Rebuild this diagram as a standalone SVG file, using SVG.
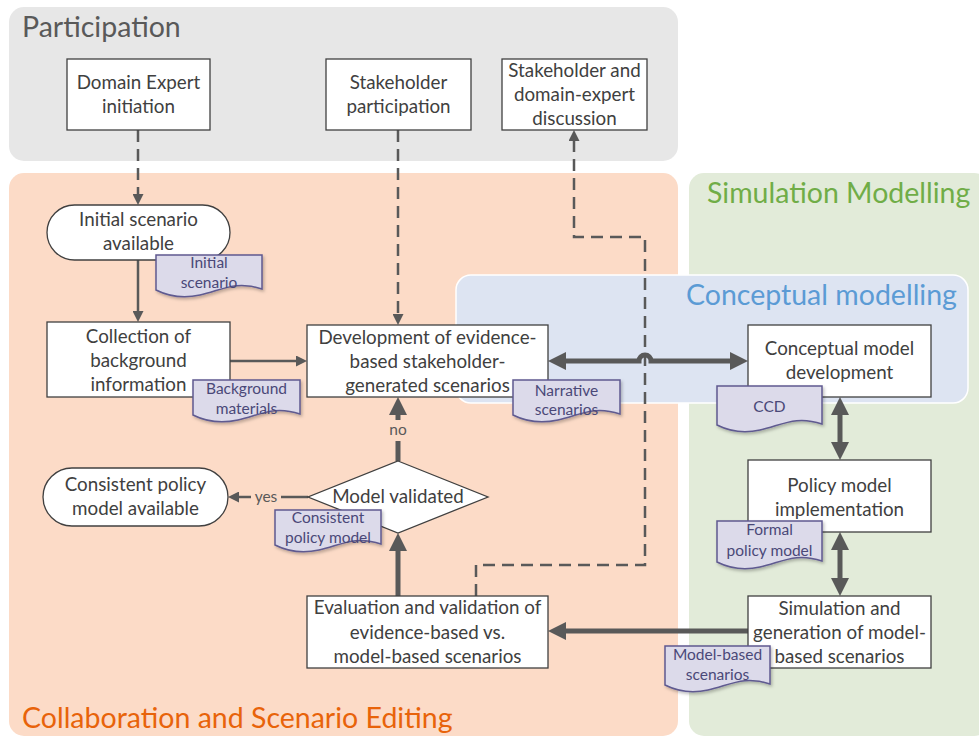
<svg xmlns="http://www.w3.org/2000/svg" width="979" height="738" viewBox="0 0 979 738">
  <style>
    .box { fill: #ffffff; stroke: #404040; stroke-width: 1.3; }
    .txt { font-family: Lato, "Open Sans", sans-serif; font-size: 18.8px; fill: #404040; text-anchor: middle; }
    .doc { fill: #dcdaea; stroke: #5f5a90; stroke-width: 1.5; filter: url(#shadow); }
    .dtxt { font-family: Lato, "Open Sans", sans-serif; font-size: 15.5px; fill: #4a4878; text-anchor: middle; }
    .title { font-family: Lato, "Open Sans", sans-serif; font-size: 28.5px; }
    .thin { fill: none; stroke: #595959; stroke-width: 2.5; }
    .dash { stroke-dasharray: 12 7; }
    .thick { fill: none; stroke: #595959; stroke-width: 5; }
    .lbl { font-family: Lato, "Open Sans", sans-serif; font-size: 15.5px; fill: #595959; text-anchor: middle; }
  </style>
  <defs>
    <marker id="ah" viewBox="0 0 10 10" refX="0" refY="5" markerUnits="userSpaceOnUse" markerWidth="11" markerHeight="11" orient="auto-start-reverse">
      <path d="M0,0 L10,5 L0,10 z" fill="#595959"/>
    </marker>
    <marker id="ahb" viewBox="0 0 10 10" refX="0" refY="5" markerUnits="userSpaceOnUse" markerWidth="18" markerHeight="18" orient="auto-start-reverse">
      <path d="M0,0 L10,5 L0,10 z" fill="#595959"/>
    </marker>
    <filter id="shadow" x="-10%" y="-10%" width="130%" height="140%">
      <feDropShadow dx="1.5" dy="2" stdDeviation="1.5" flood-color="#000000" flood-opacity="0.25"/>
    </filter>
  </defs>

  <!-- swimlane regions -->
  <g id="regions">
    <rect x="9" y="7" width="669" height="154" rx="15" fill="#e7e7e7"/>
    <rect x="9" y="173" width="669" height="563" rx="15" fill="#fcdbc7"/>
    <rect x="689" y="173" width="300" height="563" rx="15" fill="#e2ebd9"/>
    <rect x="456" y="275" width="512" height="128" rx="15" fill="#dde4f2" stroke="#ffffff" stroke-width="1.5"/>
    <text class="title" x="22" y="37" fill="#595959">Participation</text>
    <text class="title" x="707" y="203" fill="#70ad47">Simulation Modelling</text>
    <text class="title" x="686" y="305" fill="#5b9bd5">Conceptual modelling</text>
    <text class="title" x="22" y="728" fill="#e8630a">Collaboration and Scenario Editing</text>
  </g>

  <!-- connectors -->
  <g id="connectors">
    <path class="thin dash" d="M138,130 V194" marker-end="url(#ah)"/>
    <path class="thin dash" d="M398,130 V314" marker-end="url(#ah)"/>
    <path class="thin dash" d="M476,596 V565 H645 V237 H574 V141" marker-end="url(#ah)"/>
    <path class="thin" d="M138,260 V311" marker-end="url(#ah)"/>
    <path class="thin" d="M230,361 H296" marker-end="url(#ah)"/>
    <path class="thick" d="M566,361 H639 a6,6 0 0 1 12,0 H730" marker-start="url(#ahb)" marker-end="url(#ahb)"/>
    <path class="thick" d="M840,415 V442" marker-start="url(#ahb)" marker-end="url(#ahb)"/>
    <path class="thick" d="M840,550 V578" marker-start="url(#ahb)" marker-end="url(#ahb)"/>
    <path class="thick" d="M748,631 H566" marker-end="url(#ahb)"/>
    <path class="thick" d="M398,596 V551" marker-end="url(#ahb)"/>
    <path class="thick" d="M398,461 V441"/>
    <path class="thick" d="M398,420 V415" marker-end="url(#ahb)"/>
    <text class="lbl" x="398" y="435">no</text>
    <path class="thin" d="M308,497 H281"/>
    <path class="thin" d="M251,497 H239" marker-end="url(#ah)"/>
    <text class="lbl" x="266" y="502">yes</text>
  </g>

  <!-- participation nodes -->
  <g id="domain-expert-initiation">
    <rect class="box" x="67" y="59" width="143" height="71"/>
    <text class="txt" x="138.5" y="89">Domain Expert</text>
    <text class="txt" x="138.5" y="113">initiation</text>
  </g>
  <g id="stakeholder-participation">
    <rect class="box" x="326" y="59" width="145" height="71"/>
    <text class="txt" x="398.5" y="89">Stakeholder</text>
    <text class="txt" x="398.5" y="113">participation</text>
  </g>
  <g id="stakeholder-domain-expert-discussion">
    <rect class="box" x="502" y="59" width="145" height="71"/>
    <text class="txt" x="574.5" y="77">Stakeholder and</text>
    <text class="txt" x="574.5" y="101">domain-expert</text>
    <text class="txt" x="574.5" y="125">discussion</text>
  </g>

  <!-- collaboration nodes -->
  <g id="initial-scenario-available">
    <rect class="box" x="47" y="205" width="183" height="55" rx="27.5"/>
    <text class="txt" x="138.5" y="226">Initial scenario</text>
    <text class="txt" x="138.5" y="250">available</text>
  </g>
  <g id="doc-initial-scenario">
    <path class="doc" d="M156,255 H262 V289 C236,280 222,290 200,295 C182,299 168,296 156,290 Z"/>
    <text class="dtxt" x="209" y="268">Initial</text>
    <text class="dtxt" x="209" y="288">scenario</text>
  </g>
  <g id="collection-background">
    <rect class="box" x="47" y="322" width="183" height="75"/>
    <text class="txt" x="138.5" y="343">Collection of</text>
    <text class="txt" x="138.5" y="367">background</text>
    <text class="txt" x="138.5" y="391">information</text>
  </g>
  <g id="doc-background-materials">
    <path class="doc" d="M193,380 H300 V414 C274,405 260,415 238,420 C220,424 205,421 193,415 Z"/>
    <text class="dtxt" x="246.5" y="394">Background</text>
    <text class="dtxt" x="246.5" y="414">materials</text>
  </g>
  <g id="development-scenarios">
    <rect class="box" x="307" y="325" width="241" height="72"/>
    <text class="txt" x="427.5" y="344">Development of evidence-</text>
    <text class="txt" x="427.5" y="368">based stakeholder-</text>
    <text class="txt" x="427.5" y="392">generated scenarios</text>
  </g>
  <g id="doc-narrative-scenarios">
    <path class="doc" d="M513,380 H620 V414 C594,405 580,415 558,420 C540,424 525,421 513,415 Z"/>
    <text class="dtxt" x="566.5" y="396">Narrative</text>
    <text class="dtxt" x="566.5" y="415">scenarios</text>
  </g>
  <g id="model-validated">
    <path class="box" d="M398,461 L488,497 L398,533 L308,497 Z"/>
    <text class="txt" x="398" y="503">Model validated</text>
  </g>
  <g id="doc-consistent-policy-model">
    <path class="doc" d="M275,510 H381 V544 C355,535 341,545 319,550 C301,554 287,551 275,545 Z"/>
    <text class="dtxt" x="328" y="523">Consistent</text>
    <text class="dtxt" x="328" y="543">policy model</text>
  </g>
  <g id="consistent-policy-model-available">
    <rect class="box" x="43" y="468" width="185" height="58" rx="29"/>
    <text class="txt" x="135.5" y="491">Consistent policy</text>
    <text class="txt" x="135.5" y="515">model available</text>
  </g>
  <g id="evaluation-validation">
    <rect class="box" x="307" y="596" width="241" height="72"/>
    <text class="txt" x="427.5" y="614">Evaluation and validation of</text>
    <text class="txt" x="427.5" y="639">evidence-based vs.</text>
    <text class="txt" x="427.5" y="663">model-based scenarios</text>
  </g>

  <!-- simulation modelling nodes -->
  <g id="conceptual-model-development">
    <rect class="box" x="748" y="325" width="183" height="72"/>
    <text class="txt" x="839.5" y="355">Conceptual model</text>
    <text class="txt" x="839.5" y="379">development</text>
  </g>
  <g id="doc-ccd">
    <path class="doc" d="M717,386 H822 V424 C796,415 782,425 760,430 C742,434 729,431 717,425 Z"/>
    <text class="dtxt" x="769.5" y="412">CCD</text>
  </g>
  <g id="policy-model-implementation">
    <rect class="box" x="748" y="460" width="183" height="72"/>
    <text class="txt" x="839.5" y="492">Policy model</text>
    <text class="txt" x="839.5" y="516">implementation</text>
  </g>
  <g id="doc-formal-policy-model">
    <path class="doc" d="M717,521 H822 V561 C796,552 782,562 760,567 C742,571 729,568 717,562 Z"/>
    <text class="dtxt" x="769.5" y="535">Formal</text>
    <text class="dtxt" x="769.5" y="556">policy model</text>
  </g>
  <g id="simulation-generation">
    <rect class="box" x="748" y="596" width="183" height="72"/>
    <text class="txt" x="839.5" y="615">Simulation and</text>
    <text class="txt" x="839.5" y="639">generation of model-</text>
    <text class="txt" x="839.5" y="663">based scenarios</text>
  </g>
  <g id="doc-model-based-scenarios">
    <path class="doc" d="M665,646 H770 V684 C744,675 730,685 708,690 C690,694 677,691 665,685 Z"/>
    <text class="dtxt" x="717.5" y="660">Model-based</text>
    <text class="dtxt" x="717.5" y="680">scenarios</text>
  </g>
</svg>
